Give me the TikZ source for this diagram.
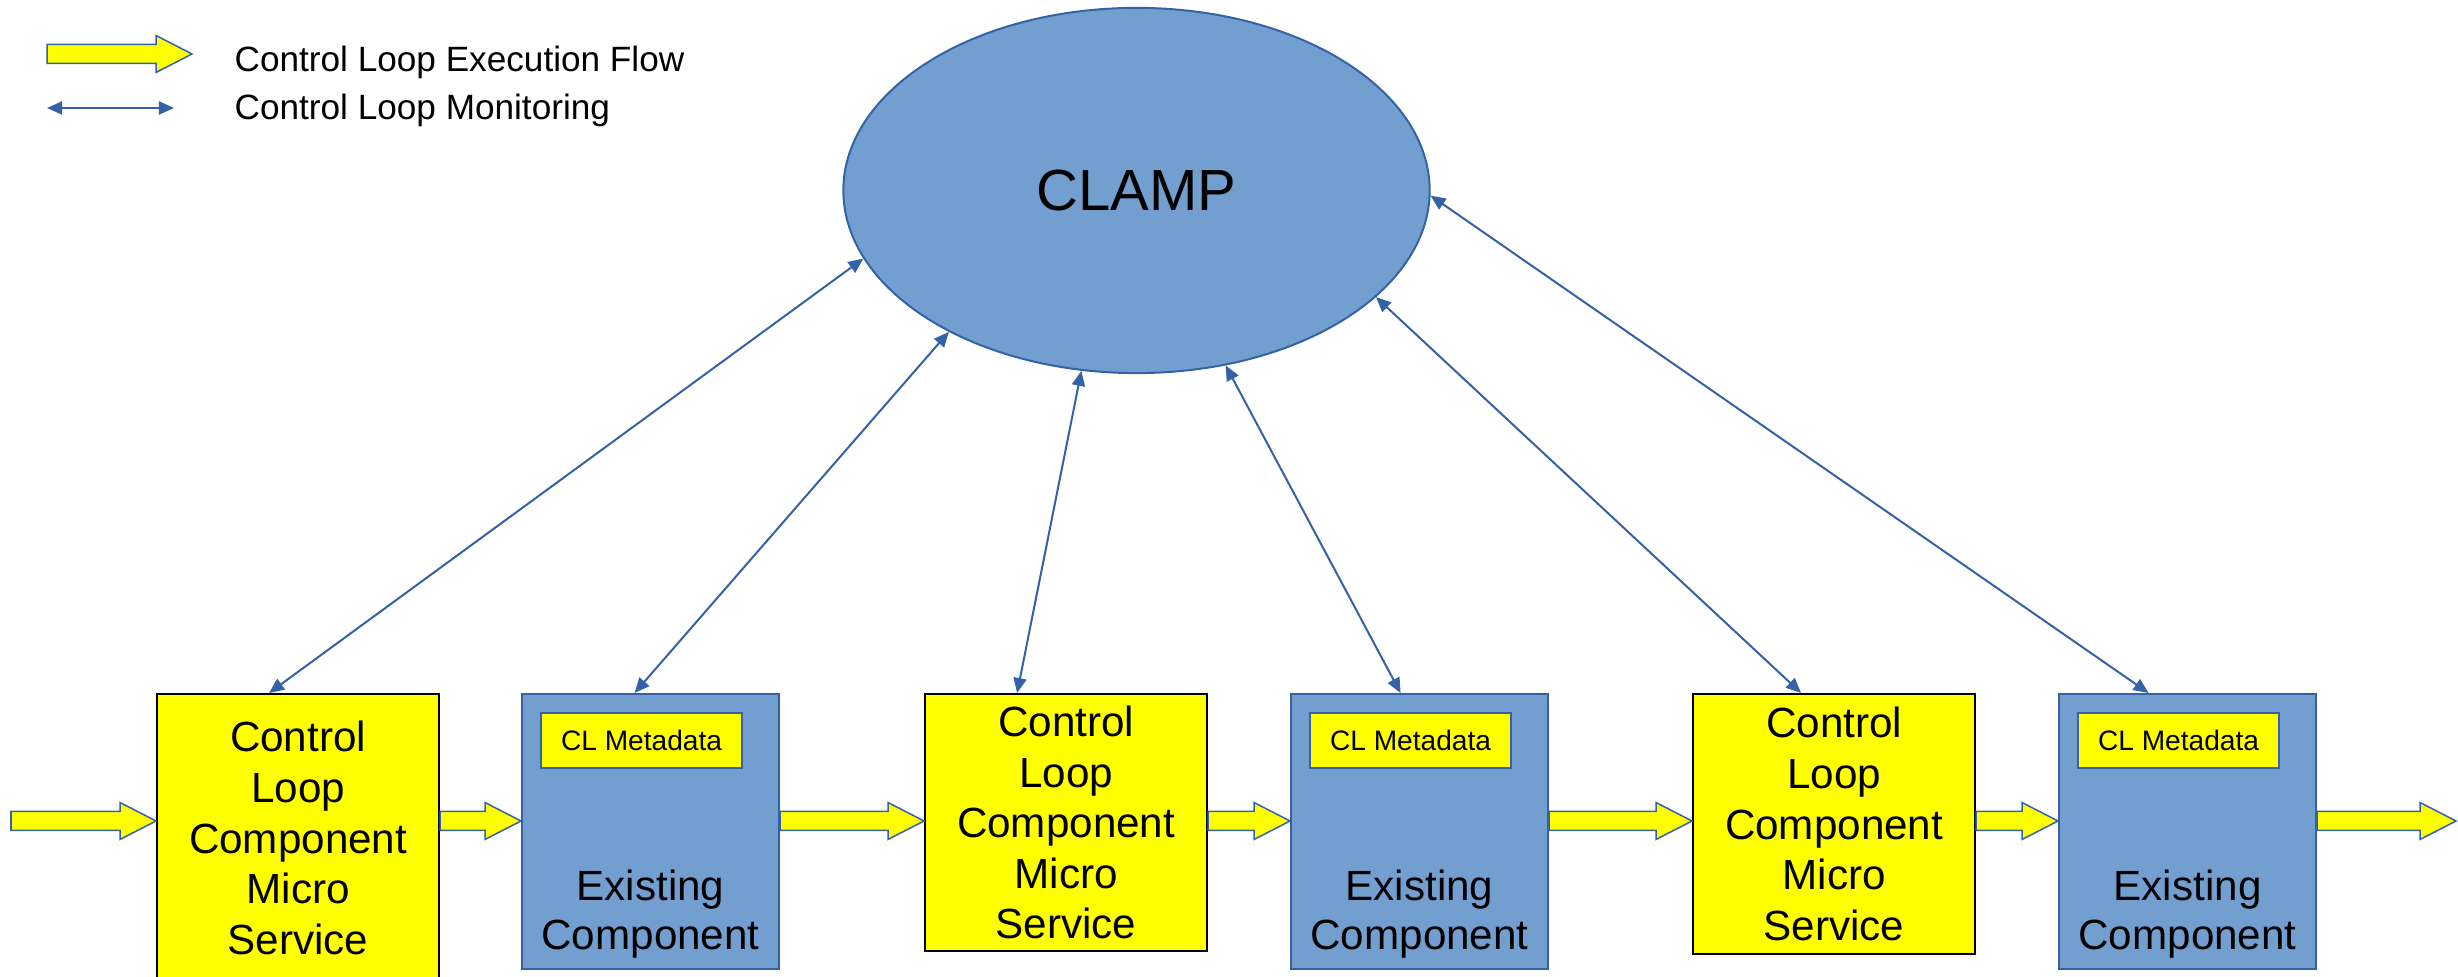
\documentclass[tikz,border=0pt]{standalone}
\usepackage{fontspec}
\setmainfont{Liberation Sans}
\usetikzlibrary{calc,arrows.meta,shapes.geometric}
\definecolor{clblue}{RGB}{114,159,207}
\definecolor{cledge}{RGB}{52,98,166}
\definecolor{clyellow}{RGB}{255,255,0}
\tikzset{
  msbox/.style={draw=black,fill=clyellow,line width=0.02cm,anchor=north west,minimum width=2.82cm,inner sep=0pt,align=center,font=\fontsize{12}{14.4}\selectfont},
  exbox/.style={draw=cledge,fill=clblue,line width=0.02cm,anchor=north west,minimum width=2.57cm,minimum height=2.75cm,inner sep=0pt},
  metabox/.style={draw=cledge,fill=clyellow,line width=0.02cm,anchor=north west,minimum width=2.01cm,minimum height=0.55cm,inner sep=0pt,font=\fontsize{8}{9.6}\selectfont},
  extext/.style={inner sep=0pt,align=center,font=\fontsize{12}{13.9}\selectfont},
  monitor/.style={draw=cledge,line width=0.02cm,{Triangle[length=0.15cm,width=0.13cm]}-{Triangle[length=0.15cm,width=0.13cm]}},
  flow/.style={draw=cledge,fill=clyellow,line width=0.015cm,line join=miter}
}
\newcommand\flowarrow[2]{%
  \draw[flow] ($(#1)+(0,-9.5)$) -- ($(#2)+(-36,-9.5)$) -- ($(#2)+(-36,-18.5)$) -- (#2)
    -- ($(#2)+(-36,18.5)$) -- ($(#2)+(-36,9.5)$) -- ($(#1)+(0,9.5)$) -- cycle;}
\begin{document}
\begin{tikzpicture}[x=0.01cm,y=-0.01cm]
\useasboundingbox (0,0) rectangle (2458,977);

\coordinate (lgflowa) at (47,54);
\coordinate (lgflowb) at (192,54);
\coordinate (lgmona) at (47,108);
\coordinate (lgmonb) at (174,108);
\flowarrow{lgflowa}{lgflowb}
\draw[monitor] (lgmona) -- (lgmonb);
\node[inner sep=0pt,anchor=base west,font=\fontsize{10}{12}\selectfont] (lgflow) at (234,71.7) {Control Loop Execution Flow};
\node[inner sep=0pt,anchor=base west,font=\fontsize{10}{12}\selectfont] (lgmon) at (234,120) {Control Loop Monitoring};

\node[draw=cledge,fill=clblue,line width=0.02cm,ellipse,minimum width=5.86cm,minimum height=3.65cm,inner sep=0pt,font=\fontsize{16.5}{19.8}\selectfont] (clamp) at (1136.5,190.5) {CLAMP};

\node[msbox,minimum height=2.88cm] (cl1) at (156,693) {Control\\Loop\\Component\\Micro\\Service};
\node[msbox,minimum height=2.57cm] (cl2) at (924,693) {Control\\Loop\\Component\\Micro\\Service};
\node[msbox,minimum height=2.60cm] (cl3) at (1692,693) {Control\\Loop\\Component\\Micro\\Service};

\foreach \n/\x in {1/521,2/1290,3/2058}{
  \node[exbox] (ex\n) at (\x,693) {};
  \node[metabox] (meta\n) at ($(ex\n.north west)+(19,19)$) {CL Metadata};
  \node[extext] (exname\n) at ($(ex\n.south)+(0,-56)$) {Existing\\Component};
}

\coordinate (flowline) at (0,821);
\coordinate (flowin) at (11,821);
\coordinate (flowout) at (2456,821);
\foreach \a/\b in {flowin/cl1.west,cl1.east/ex1.west,ex1.east/cl2.west,cl2.east/ex2.west,ex2.east/cl3.west,cl3.east/ex3.west,ex3.east/flowout}
  \flowarrow{\a |- flowline}{\b |- flowline};

\draw[monitor] ($(cl1.north)+(-29,0)$) -- (clamp.194.2);
\draw[monitor] ($(ex1.north)+(-16,0)$) -- (clamp.217.2);
\draw[monitor] ($(cl2.north)+(-49,0)$) -- (clamp.253.1);
\draw[monitor] ($(ex2.north)+(-19,0)$) -- (clamp.297.2);
\draw[monitor] ($(cl3.north)+(-33,0)$) -- (clamp.336.1);
\draw[monitor] ($(ex3.north)+(-39,0)$) -- (clamp.359.1);
\end{tikzpicture}
\end{document}
